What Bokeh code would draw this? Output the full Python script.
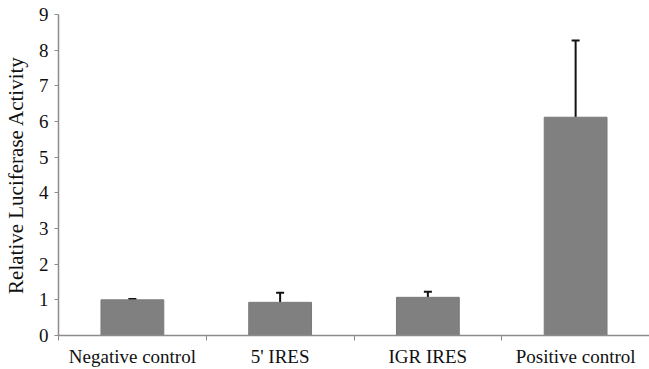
from bokeh.plotting import figure
from bokeh.models import ColumnDataSource, FixedTicker, Range1d, Whisker
from bokeh.embed import file_html
from bokeh.resources import INLINE

categories = ["Negative control", "5' IRES", "IGR IRES", "Positive control"]
values = [1.0, 0.93, 1.07, 6.12]
errors = [0.02, 0.27, 0.16, 2.15]
y_ticks = [0, 1, 2, 3, 4, 5, 6, 7, 8, 9]

xs = [i + 0.5 for i in range(len(categories))]
upper = [v + e for v, e in zip(values, errors)]
src = ColumnDataSource(dict(x=xs, top=values, upper=upper, cat=categories))

FONT = "Liberation Serif"
AX = "#8c8c8c"

p = figure(width=649, height=369, output_backend="svg", toolbar_location=None,
           x_range=Range1d(0, len(categories)), y_range=Range1d(0, 9),
           min_border_left=57, min_border_right=0, min_border_top=14, min_border_bottom=33)
p.outline_line_color = None
p.xgrid.visible = False
p.ygrid.visible = False

p.vbar(x="x", top="top", width=0.425, bottom=0, source=src,
       fill_color="#808080", line_color="#7a7a7a", line_width=1)

w = Whisker(source=src, base="x", upper="upper", lower="top", dimension="height",
            line_color="#111111", line_width=2)
w.upper_head.size = 8
w.upper_head.line_width = 2
w.upper_head.line_color = "#111111"
w.lower_head = None
p.add_layout(w)

p.xaxis.ticker = FixedTicker(ticks=xs, minor_ticks=list(range(len(categories) + 1)))
p.xaxis.major_label_overrides = {x: c for x, c in zip(xs, categories)}
p.xaxis.major_tick_line_color = None
p.xaxis.minor_tick_line_color = AX
p.xaxis.minor_tick_in = 0
p.xaxis.minor_tick_out = 5
p.xaxis.axis_line_color = AX
p.xaxis.axis_line_width = 1.5
p.xaxis.major_label_standoff = 4
p.xaxis.major_label_text_font = FONT
p.xaxis.major_label_text_font_size = "19px"
p.xaxis.major_label_text_color = "#111111"

p.yaxis.ticker = FixedTicker(ticks=y_ticks, minor_ticks=[])
p.yaxis.major_tick_line_color = AX
p.yaxis.major_tick_in = 0
p.yaxis.major_tick_out = 4
p.yaxis.axis_line_color = AX
p.yaxis.axis_line_width = 1.5
p.yaxis.major_label_standoff = 6
p.yaxis.major_label_text_font = FONT
p.yaxis.major_label_text_font_size = "19px"
p.yaxis.major_label_text_color = "#111111"
p.yaxis.axis_label = "Relative Luciferase Activity"
p.yaxis.axis_label_text_font = FONT
p.yaxis.axis_label_text_font_size = "21px"
p.yaxis.axis_label_text_font_style = "normal"
p.yaxis.axis_label_text_color = "#111111"
p.yaxis.axis_label_standoff = 8

open("out.html", "w").write(file_html(p, INLINE))
